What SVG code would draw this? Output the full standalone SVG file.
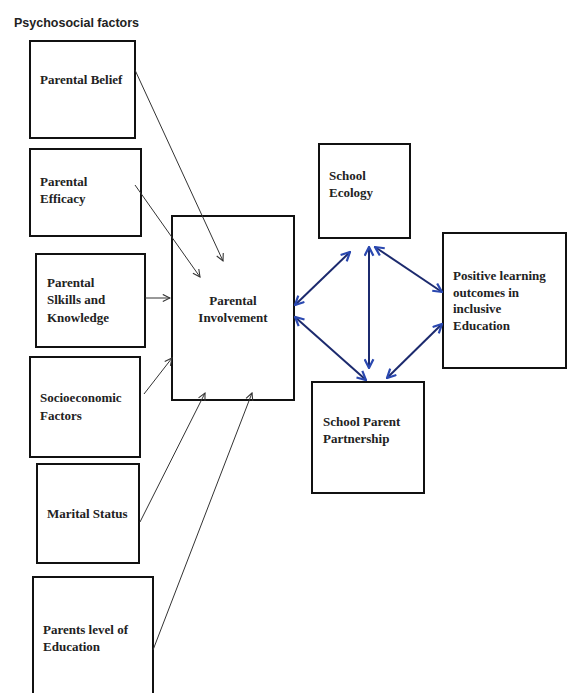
<svg xmlns="http://www.w3.org/2000/svg" width="568" height="693" viewBox="0 0 568 693">
<style>
.box{fill:#fff;stroke:#111;stroke-width:2}
.t{font-family:"Liberation Serif","Times New Roman",serif;font-weight:bold;font-size:13px;fill:#222}
.title{font-family:"Liberation Sans",Arial,sans-serif;font-weight:bold;font-size:12.5px;fill:#222}
.thin{stroke:#333;stroke-width:1;fill:none;marker-end:url(#open)}
.blue{stroke:#1c2a6e;stroke-width:2;fill:none;marker-start:url(#bs);marker-end:url(#be)}
</style>
<defs>
<marker id="open" viewBox="0 0 10 10" refX="9" refY="5" markerWidth="9" markerHeight="9" markerUnits="userSpaceOnUse" orient="auto">
<path d="M1,1 L9,5 L1,9" fill="none" stroke="#333" stroke-width="1.2"/>
</marker>
<marker id="be" viewBox="0 0 10 10" refX="9" refY="5" markerWidth="11" markerHeight="11" markerUnits="userSpaceOnUse" orient="auto">
<path d="M1,1 L9,5 L1,9" fill="none" stroke="#2a48b0" stroke-width="2"/>
</marker>
<marker id="bs" viewBox="0 0 10 10" refX="1" refY="5" markerWidth="11" markerHeight="11" markerUnits="userSpaceOnUse" orient="auto">
<path d="M9,1 L1,5 L9,9" fill="none" stroke="#2a48b0" stroke-width="2"/>
</marker>
</defs>
<rect width="568" height="693" fill="#fff"/>
<text class="title" x="14" y="27">Psychosocial factors</text>

<g id="belief"><rect class="box" x="30" y="41" width="105" height="97"/><text class="t" x="40" y="84">Parental Belief</text></g>
<g id="efficacy"><rect class="box" x="30" y="149" width="111" height="87"/><text class="t" x="40" y="186">Parental</text><text class="t" x="40" y="203">Efficacy</text></g>
<g id="skills"><rect class="box" x="36" y="254" width="109" height="93"/><text class="t" x="47" y="287">Parental</text><text class="t" x="47" y="304">Slkills and</text><text class="t" x="47" y="322">Knowledge</text></g>
<g id="socio"><rect class="box" x="30" y="357" width="110" height="100"/><text class="t" x="40" y="402">Socioeconomic</text><text class="t" x="40" y="420">Factors</text></g>
<g id="marital"><rect class="box" x="37" y="464" width="102" height="99"/><text class="t" x="47" y="518">Marital Status</text></g>
<g id="parentsedu"><rect class="box" x="33" y="577" width="120" height="130"/><text class="t" x="43" y="634">Parents level of</text><text class="t" x="43" y="651">Education</text></g>
<g id="involvement"><rect class="box" x="172" y="216" width="122" height="184"/><text class="t" x="233" y="305" text-anchor="middle">Parental</text><text class="t" x="233" y="322" text-anchor="middle">Involvement</text></g>
<g id="ecology"><rect class="box" x="319" y="144" width="91" height="94"/><text class="t" x="329" y="180">School</text><text class="t" x="329" y="197">Ecology</text></g>
<g id="outcomes"><rect class="box" x="443" y="233" width="123" height="135"/><text class="t" x="453" y="280">Positive learning</text><text class="t" x="453" y="297">outcomes in</text><text class="t" x="453" y="313">inclusive</text><text class="t" x="453" y="330">Education</text></g>
<g id="partnership"><rect class="box" x="312" y="382" width="112" height="111"/><text class="t" x="323" y="426">School Parent</text><text class="t" x="323" y="443">Partnership</text></g>

<g id="connectors">
<line class="thin" x1="135" y1="70" x2="223" y2="261"/>
<line class="thin" x1="135" y1="185" x2="200" y2="277"/>
<line class="thin" x1="145" y1="298" x2="170" y2="298"/>
<line class="thin" x1="144" y1="394" x2="172" y2="358"/>
<line class="thin" x1="140" y1="522" x2="205" y2="393"/>
<line class="thin" x1="153" y1="650" x2="252" y2="393"/>
<line class="blue" x1="295" y1="305" x2="350" y2="252"/>
<line class="blue" x1="295" y1="317" x2="366" y2="380"/>
<line class="blue" x1="369" y1="247" x2="369" y2="368"/>
<line class="blue" x1="375" y1="247" x2="442" y2="292"/>
<line class="blue" x1="442" y1="324" x2="387" y2="378"/>
</g>
</svg>
